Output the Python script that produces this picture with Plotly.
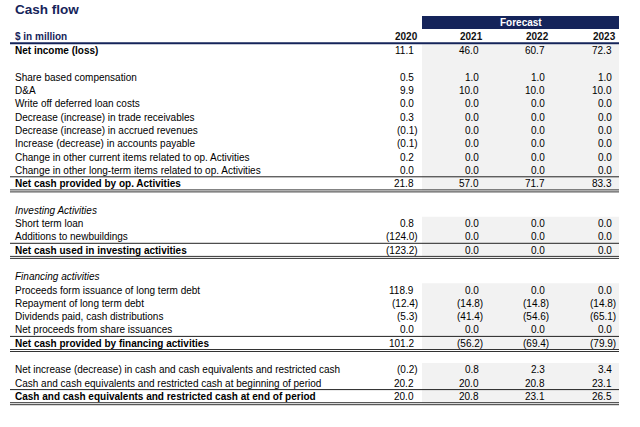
import plotly.graph_objects as go

# ---------------- data ----------------
title = "Cash flow"
unit_label = "$ in million"
forecast_label = "Forecast"
years = ["2020", "2021", "2022", "2023"]

labels = [
    "Net income (loss)", "",
    "Share based compensation", "D&A", "Write off deferred loan costs",
    "Decrease (increase) in trade receivables", "Decrease (increase) in accrued revenues",
    "Increase (decrease) in accounts payable",
    "Change in other current items related to op. Activities",
    "Change in other long-term items related to op. Activities",
    "Net cash provided by op. Activities", "",
    "Investing Activities", "Short term loan", "Additions to newbuildings",
    "Net cash used in investing activities", "",
    "Financing activities", "Proceeds form issuance of long term debt",
    "Repayment of long term debt", "Dividends paid, cash distributions",
    "Net proceeds from share issuances", "Net cash provided by financing activities", "",
    "Net increase (decrease) in cash and cash equivalents and restricted cash",
    "Cash and cash equivalents and restricted cash at beginning of period",
    "Cash and cash equivalents and restricted cash at end of period",
]
v2020 = [11.1, None, 0.5, 9.9, 0.0, 0.3, -0.1, -0.1, 0.2, 0.0, 21.8, None,
         None, 0.8, -124.0, -123.2, None,
         None, 118.9, -12.4, -5.3, 0.0, 101.2, None,
         -0.2, 20.2, 20.0]
v2021 = [46.0, None, 1.0, 10.0, 0.0, 0.0, 0.0, 0.0, 0.0, 0.0, 57.0, None,
         None, 0.0, 0.0, 0.0, None,
         None, 0.0, -14.8, -41.4, 0.0, -56.2, None,
         0.8, 20.0, 20.8]
v2022 = [60.7, None, 1.0, 10.0, 0.0, 0.0, 0.0, 0.0, 0.0, 0.0, 71.7, None,
         None, 0.0, 0.0, 0.0, None,
         None, 0.0, -14.8, -54.6, 0.0, -69.4, None,
         2.3, 20.8, 23.1]
v2023 = [72.3, None, 1.0, 10.0, 0.0, 0.0, 0.0, 0.0, 0.0, 0.0, 83.3, None,
         None, 0.0, 0.0, 0.0, None,
         None, 0.0, -14.8, -65.1, 0.0, -79.9, None,
         3.4, 23.1, 26.5]
values = [v2020, v2021, v2022, v2023]

# ---------------- styles / layout ----------------
bold_rows = {0, 10, 15, 22, 26}
italic_rows = {12, 17}
total_rows = [10, 15, 22, 26]
shade_blocks = [(0, 10), (13, 15), (18, 22), (24, 26)]

FONT = "Liberation Sans, Arial, sans-serif"
NAVY = "#15245A"
SHADE = "#F2F2F2"
FS = 10

Y0, STEP = 50.6, 13.3
def ry(k):
    return Y0 + k * STEP

col_right = [420, 484.5, 551, 617.5]
LEFT, RIGHT = 10, 619
F_LEFT = 422
LABEL_X = 13

shapes = []
annots = []

# forecast shading
for a, b in shade_blocks:
    top = 44.5 if a == 0 else ry(a) - 6.7
    shapes.append(dict(type="rect", xref="x", yref="y", x0=F_LEFT, x1=RIGHT,
                       y0=top, y1=ry(b) + 6.7, fillcolor=SHADE, line_width=0, layer="below"))

# forecast header box
shapes.append(dict(type="rect", xref="x", yref="y", x0=F_LEFT, x1=RIGHT, y0=16, y1=29,
                   fillcolor=NAVY, line_width=0))
annots.append(dict(x=(F_LEFT + RIGHT) / 2, y=22.8, text="<b>%s</b>" % forecast_label,
                   font=dict(family=FONT, size=FS, color="white"), showarrow=False,
                   xanchor="center", yanchor="middle"))

# header line
shapes.append(dict(type="line", xref="x", yref="y", x0=LEFT, x1=RIGHT, y0=43.3, y1=43.3,
                   line=dict(color=NAVY, width=2)))

# total row borders
for k in total_rows:
    yt = ry(k) - 6.8
    shapes.append(dict(type="line", xref="x", yref="y", x0=LEFT, x1=RIGHT, y0=yt, y1=yt,
                       line=dict(color="#222222", width=1)))
    for off in (6.3, 8.3):
        yb = ry(k) + off
        shapes.append(dict(type="line", xref="x", yref="y", x0=LEFT, x1=RIGHT, y0=yb, y1=yb,
                           line=dict(color="#333333", width=1)))

# title & header row
annots.append(dict(x=LABEL_X, y=9, text="<b>%s</b>" % title,
                   font=dict(family=FONT, size=13.5, color=NAVY), showarrow=False,
                   xanchor="left", yanchor="middle"))
annots.append(dict(x=LABEL_X, y=36.5, text="<b>%s</b>" % unit_label,
                   font=dict(family=FONT, size=FS, color=NAVY), showarrow=False,
                   xanchor="left", yanchor="middle"))
for j, yr in enumerate(years):
    annots.append(dict(x=col_right[j], y=36.5, text="<b>%s</b>" % yr,
                       font=dict(family=FONT, size=FS, color="#111111"), showarrow=False,
                       xanchor="right", yanchor="middle"))

def fmt(v):
    return "(%.1f)" % abs(v) if v < 0 else "%.1f" % v

for k, lab in enumerate(labels):
    if lab:
        t = lab
        if k in bold_rows:
            t = "<b>%s</b>" % t
        if k in italic_rows:
            t = "<i>%s</i>" % t
        annots.append(dict(x=LABEL_X, y=ry(k), text=t,
                           font=dict(family=FONT, size=FS, color="#000000"), showarrow=False,
                           xanchor="left", yanchor="middle"))
    for j, series in enumerate(values):
        v = series[k]
        if v is None:
            continue
        x = col_right[j] - (0 if v < 0 else 3.6)
        annots.append(dict(x=x, y=ry(k), text=fmt(v),
                           font=dict(family=FONT, size=FS, color="#000000"), showarrow=False,
                           xanchor="right", yanchor="middle"))

fig = go.Figure()
fig.add_trace(go.Scatter(x=[0, 640], y=[0, 427], mode="markers",
                         marker=dict(opacity=0), hoverinfo="skip", showlegend=False))
fig.update_layout(
    width=640, height=427, margin=dict(l=0, r=0, t=0, b=0),
    paper_bgcolor="white", plot_bgcolor="white",
    xaxis=dict(range=[0, 640], visible=False, fixedrange=True),
    yaxis=dict(range=[427, 0], visible=False, fixedrange=True),
    shapes=shapes, annotations=annots, showlegend=False,
)
fig.write_html("out.html", config={"displayModeBar": False},
               post_script="document.body.style.margin='0';document.body.style.overflow='hidden';")
